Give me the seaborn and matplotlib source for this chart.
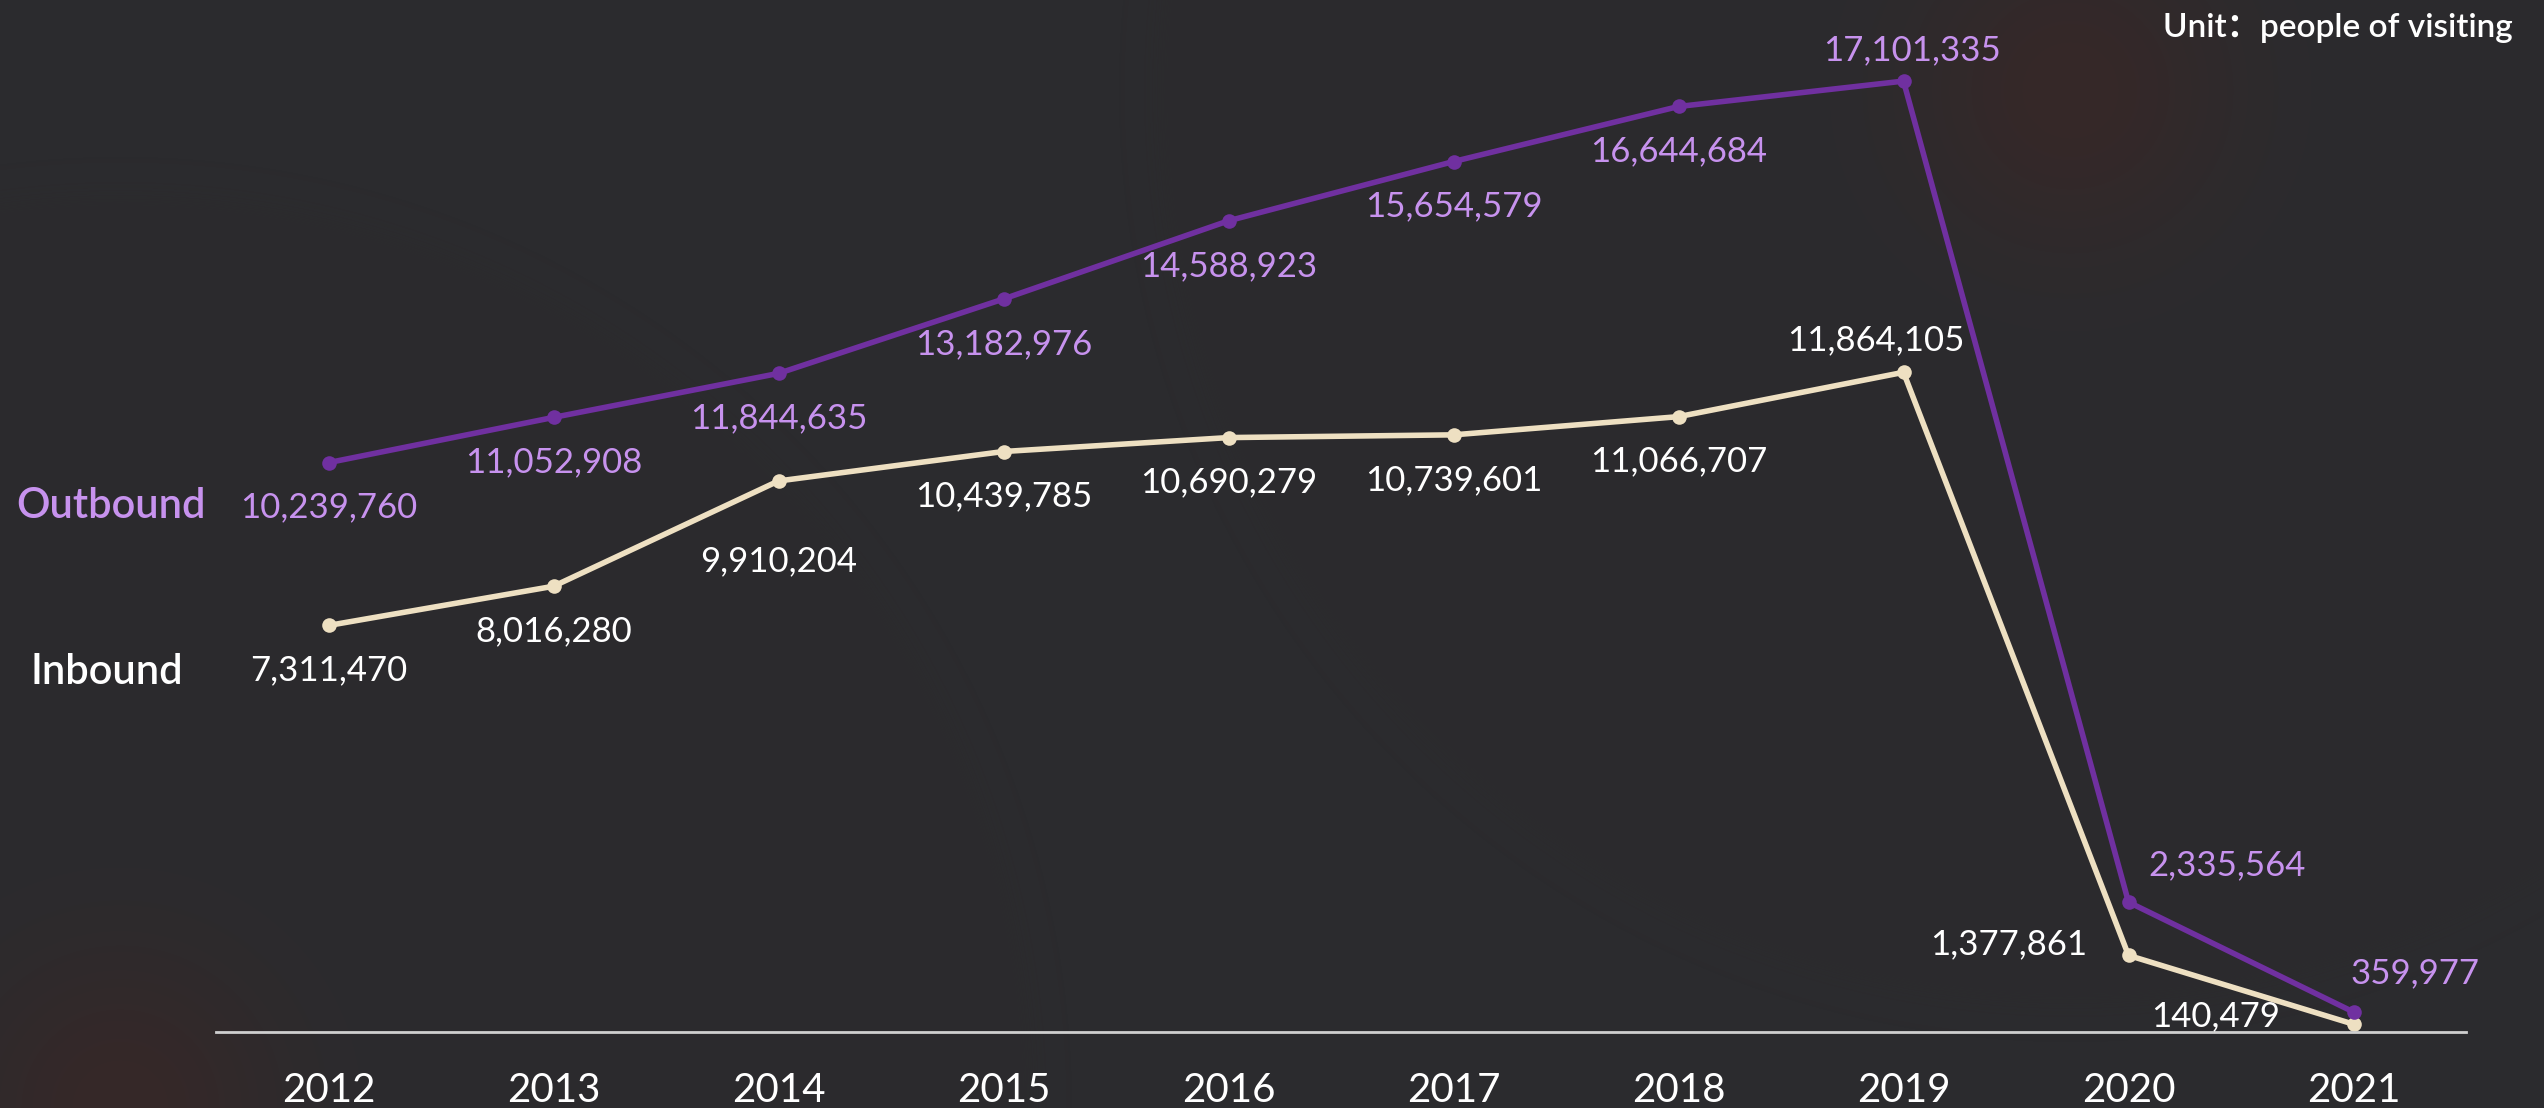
import numpy as np
import pandas as pd
import matplotlib
matplotlib.use('Agg')
import matplotlib.pyplot as plt
import seaborn as sns

# data
years = [2012, 2013, 2014, 2015, 2016, 2017, 2018, 2019, 2020, 2021]
outbound = [10239760, 11052908, 11844635, 13182976, 14588923,
            15654579, 16644684, 17101335, 2335564, 359977]
inbound = [7311470, 8016280, 9910204, 10439785, 10690279,
           10739601, 11066707, 11864105, 1377861, 140479]
series_names = ['Outbound', 'Inbound']
unit_text = 'Unit\uff1apeople of visiting'

# label offsets in pixels (dx, dy) for each point
out_offsets = [(0, -45)] * 7 + [(8, 31), (99, 37), (62, 39)]
in_offsets = [(0, -45), (0, -45), (0, -80), (0, -45), (0, -45), (0, -45),
              (0, -45), (-28, 32), (-120, 11), (-138, 8)]

BG = '#2b2b2e'
OUT_LINE = '#7030a0'
OUT_TEXT = '#c792ee'
IN_LINE = '#eee0c2'
IN_TEXT = '#ffffff'

sns.set_theme(style='dark')
plt.rcParams['font.family'] = ['Lato', 'Noto Sans CJK SC', 'DejaVu Sans']

df = pd.DataFrame({
    'year': years * 2,
    'visitors': outbound + inbound,
    'direction': [series_names[0]] * len(years) + [series_names[1]] * len(years),
})

W, H = 2544, 1108
fig = plt.figure(figsize=(W / 100, H / 100), dpi=100)
fig.patch.set_facecolor(BG)

# faint reddish glows in the background
bgax = fig.add_axes([0, 0, 1, 1], zorder=0)
yy, xx = np.mgrid[0:H, 0:W]
base = np.array([0x2b, 0x2b, 0x2e]) / 255.0
glow = np.array([0x36, 0x28, 0x28]) / 255.0
w = np.zeros((H, W))
for cx, cy, r in [(2070, 90, 110), (120, 1108, 110)]:
    w = np.maximum(w, np.exp(-((xx - cx) ** 2 + (yy - cy) ** 2) / (2 * r ** 2)))
img = base[None, None, :] * (1 - w[..., None]) + glow[None, None, :] * w[..., None]
bgax.imshow(img, extent=[0, 1, 0, 1], aspect='auto')
bgax.axis('off')

ax = fig.add_axes([216 / W, 76 / H, 2250 / W, 1032 / H], zorder=1)
ax.patch.set_alpha(0)

sns.lineplot(data=df, x='year', y='visitors', hue='direction',
             palette={series_names[0]: OUT_LINE, series_names[1]: IN_LINE},
             hue_order=series_names[::-1],
             marker='o', markersize=10.5, markeredgewidth=0,
             linewidth=4, legend=False, ax=ax)

for vals, offs, col in [(outbound, out_offsets, OUT_TEXT), (inbound, in_offsets, IN_TEXT)]:
    for x, v, (dx, dy) in zip(years, vals, offs):
        ax.annotate(f'{v:,}', (x, v), xytext=(dx, dy), textcoords='offset pixels',
                    ha='center', va='center', fontsize=25, color=col)

ax.set_xlim(2011.5, 2021.5)
ax.set_ylim(0, 18.56e6)
ax.set_xticks(years)
ax.set_xticklabels([str(y) for y in years], fontsize=29, color='white')
ax.tick_params(axis='x', length=0, pad=29)
ax.set_yticks([])
ax.set_xlabel('')
ax.set_ylabel('')
for s in ['top', 'right', 'left']:
    ax.spines[s].set_visible(False)
ax.spines['bottom'].set_color('#cfcfcf')
ax.spines['bottom'].set_linewidth(2)
ax.grid(False)

fig.text(16 / W, 1 - 506 / H, series_names[0], fontsize=30, color=OUT_TEXT,
         fontweight='semibold', ha='left', va='center')
fig.text(31 / W, 1 - 672 / H, series_names[1], fontsize=30, color='white',
         fontweight='semibold', ha='left', va='center')
fig.text(2513 / W, 1 - 28 / H, unit_text, fontsize=24, color='white',
         fontweight='semibold', ha='right', va='center')

fig.savefig('out.png', dpi=100, facecolor=BG)
